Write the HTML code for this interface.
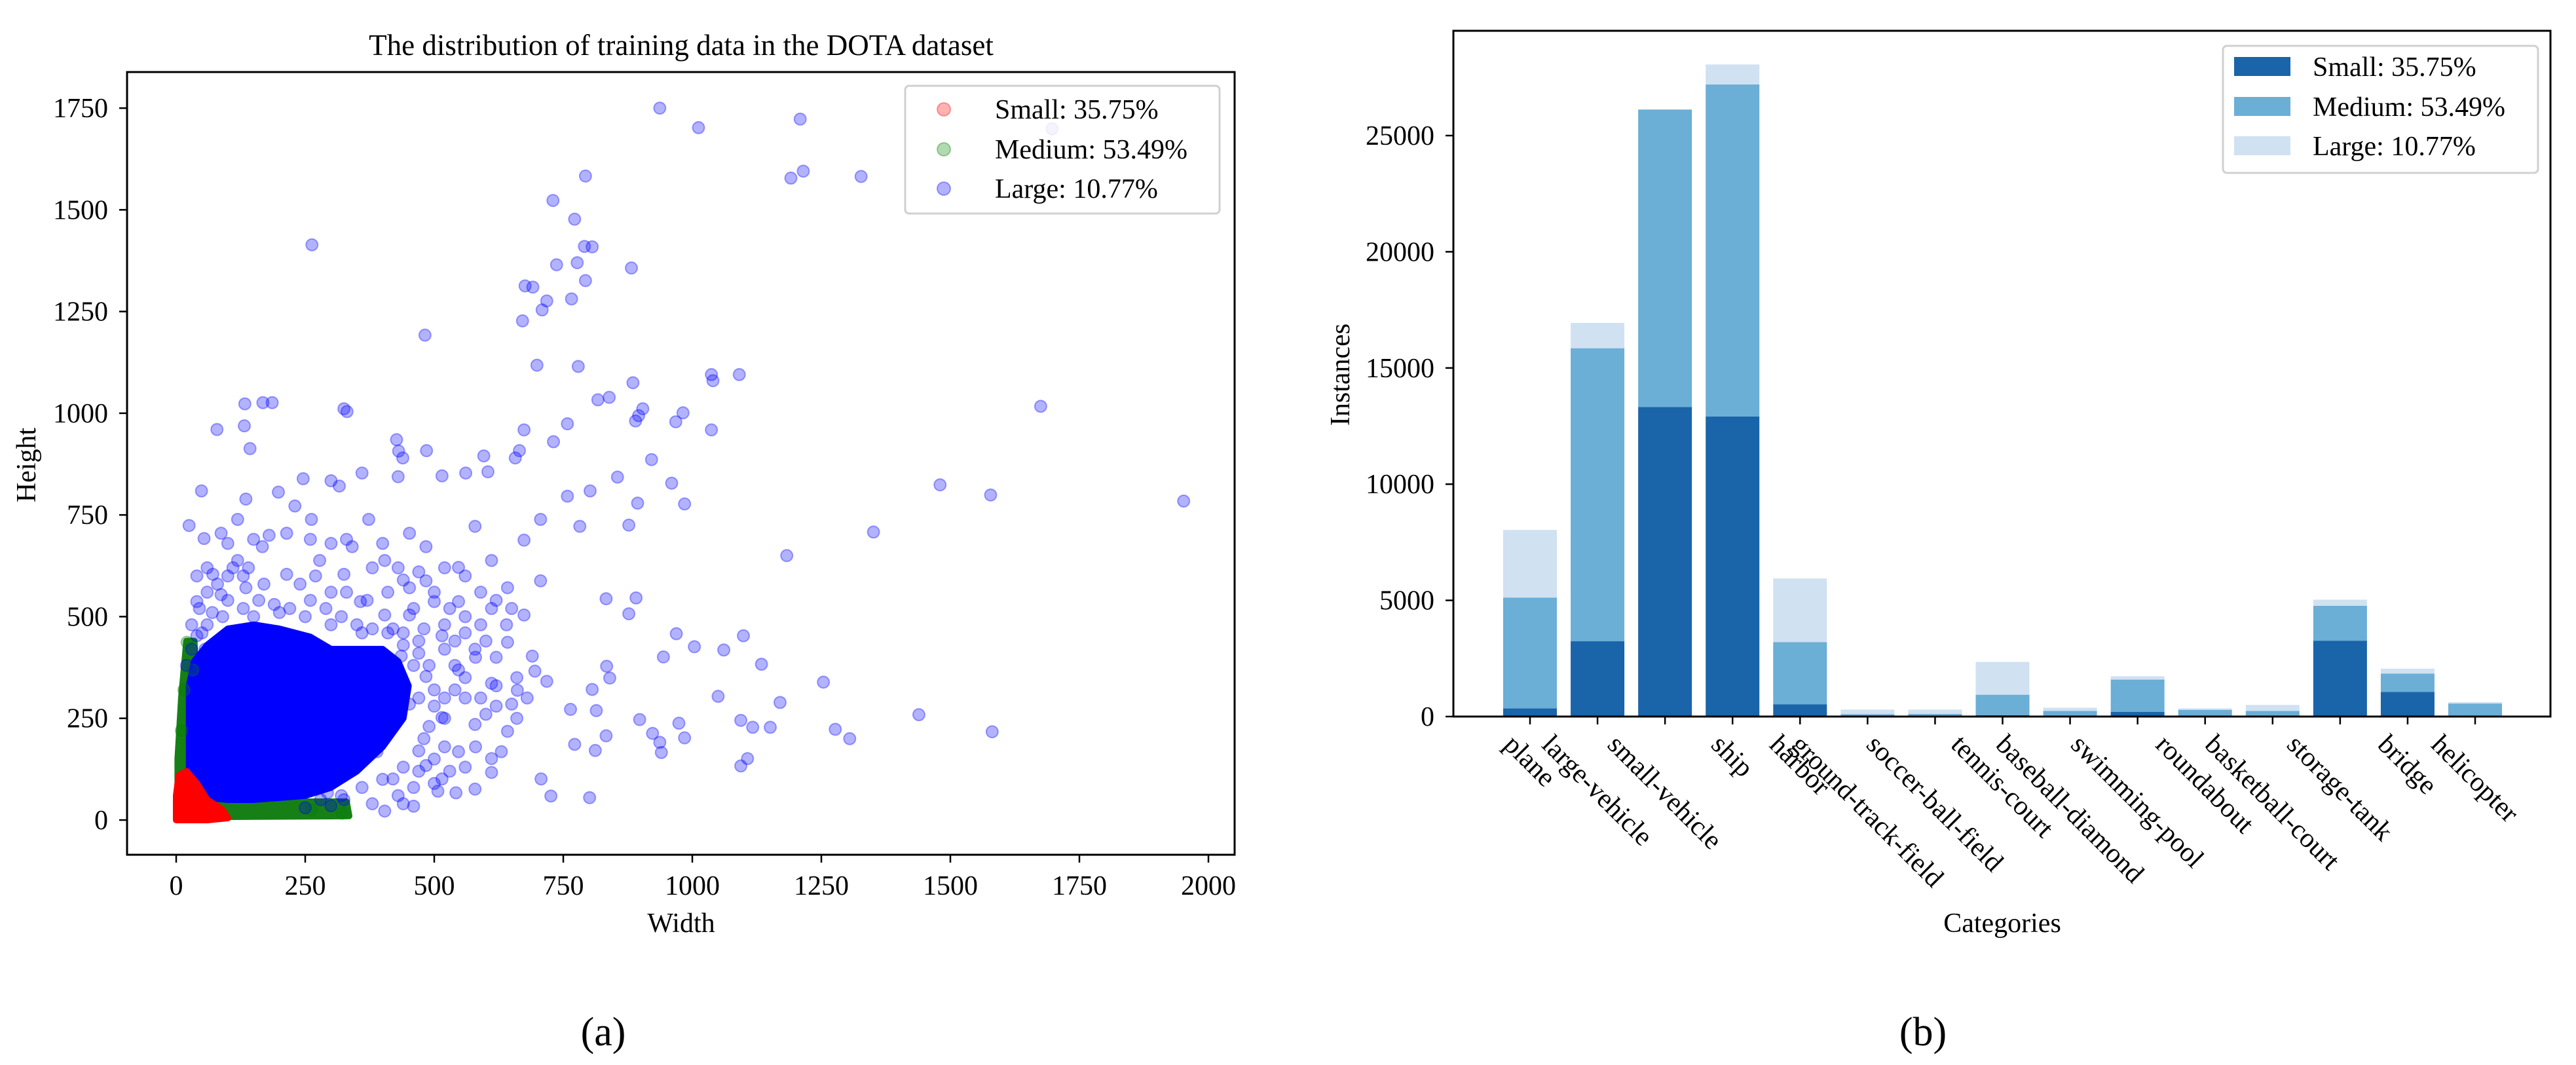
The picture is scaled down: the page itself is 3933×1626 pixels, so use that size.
<!DOCTYPE html>
<html><head><meta charset="utf-8">
<style>
html,body{margin:0;padding:0;background:#fff;}
svg{display:block;font-family:"Liberation Serif","DejaVu Serif",serif;}
</style></head>
<body>
<svg id="fig" width="3933" height="1626" viewBox="0 0 3933 1626" xmlns="http://www.w3.org/2000/svg">
<g id="left"></g>
<g id="right"></g>
</svg>
<script>
// ---------- Scatter data (width, height) ----------
const xTicks = [0,250,500,750,1000,1250,1500,1750,2000];
const yTicks = [0,250,500,750,1000,1250,1500,1750];
const smallCore = [[0,0],[0,60],[5,110],[20,120],[40,90],[60,50],[90,25],[100,5],[60,0]];
const mediumCore = [[3,10],[3,150],[10,300],[20,440],[35,440],[40,300],[40,60],[100,45],[200,45],[330,45],[335,10],[100,8]];
const largeCore = [[25,60],[25,330],[35,390],[60,430],[100,470],[150,480],[200,470],[260,450],[300,420],[350,420],[400,420],[430,390],[450,330],[440,250],[400,180],[350,120],[300,80],[250,60],[200,55],[150,50],[100,50],[60,55]];
const mediumPoints = [[21,437],[322,17],[262,25],[32,369],[15,320],[10,220]];
const largePoints = [[937,1750],[1012,1702],[1209,1723],[1697,1699],[793,1583],[1191,1578],[1215,1595],[1327,1582],[730,1523],[772,1477],[263,1414],[791,1410],[806,1409],[777,1370],[737,1365],[882,1357],[793,1326],[676,1313],[691,1310],[718,1276],[766,1281],[709,1254],[671,1227],[482,1192],[699,1118],[779,1115],[1037,1095],[1091,1095],[1040,1080],[885,1075],[817,1033],[839,1039],[904,1011],[896,994],[890,981],[982,1001],[968,979],[1037,959],[1675,1017],[133,1023],[168,1026],[186,1026],[325,1011],[331,1004],[79,960],[132,969],[674,959],[758,974],[143,913],[427,935],[485,908],[431,907],[439,890],[657,890],[596,895],[665,908],[731,930],[921,886],[360,853],[430,844],[515,846],[561,853],[604,856],[855,843],[960,828],[1480,824],[246,839],[300,834],[316,821],[49,809],[802,809],[1578,799],[1952,784],[894,779],[985,777],[758,796],[25,724],[54,692],[1351,708],[1183,650],[877,725],[782,722],[833,544],[891,546],[877,507],[1099,453],[969,458],[1061,418],[1004,426],[944,401],[1134,383],[834,378],[840,349],[1254,339],[1050,304],[1170,289],[1439,259],[898,247],[1151,228],[1117,228],[1277,223],[1305,200],[1581,217],[974,238],[985,202],[923,213],[937,191],[940,166],[1094,245],[1107,151],[1094,133],[801,55],[726,59],[707,101],[833,207],[764,272],[772,186],[812,171],[814,269],[806,321],[718,341],[695,366],[661,319],[650,285],[630,168],[611,117],[579,76],[542,67],[507,71],[460,34],[404,22],[452,705],[484,672],[547,621],[611,638],[674,688],[706,739],[579,722],[642,571],[547,537],[611,520],[674,504],[706,588],[484,588],[452,504],[515,453],[579,420],[642,437],[690,403],[547,369],[611,336],[484,353],[452,285],[515,252],[579,235],[642,218],[547,168],[484,134],[420,101],[515,101],[611,151],[373,739],[341,672],[325,604],[404,638],[262,739],[214,705],[167,672],[119,638],[71,604],[40,537],[87,554],[135,571],[214,604],[278,638],[119,739],[87,705],[198,806],[230,772],[135,789],[40,453],[56,420],[357,537],[404,504],[452,571],[500,537],[436,403],[404,336],[357,252],[389,168],[325,118],[293,67],[325,50],[480,470],[470,440],[460,380],[470,300],[480,200],[500,150],[440,460],[420,470],[360,460],[300,480],[250,500],[200,510],[150,500],[90,500],[60,480],[45,520],[520,420],[540,380],[560,300],[520,250],[500,320],[600,260],[620,400],[560,460],[520,180],[470,120],[430,60],[380,40],[250,30],[300,35],
[30,480],[50,460],[70,510],[100,540],[130,520],[160,540],[190,530],[220,520],[260,540],[290,520],[320,500],[350,480],[380,470],[410,460],[440,430],[470,410],[490,380],[500,280],[490,230],[470,170],[440,130],[400,100],[360,80],[320,60],[280,50],[100,600],[140,620],[110,620],[130,600],[170,580],[240,580],[270,600],[300,560],[330,560],[370,540],[410,560],[440,590],[470,610],[500,560],[530,520],[560,500],[590,480],[100,680],[150,690],[180,700],[260,690],[300,680],[330,690],[380,620],[400,680],[430,620],[520,480],[540,440],[460,520],[60,560],[80,580],[30,420],[20,380],[520,620],[560,600],[590,560],[620,540],[650,520],[640,480],[600,440],[580,400],[560,350],[540,320],[520,300],[590,300],[620,330],[660,350],[680,300],[660,250],[620,280],[580,180],[560,130],[530,120],[500,90],[460,80],[440,40],[60,620],[40,600]];

// ---------- Bar data ----------
const categories = ["plane","large-vehicle","small-vehicle","ship","harbor","ground-track-field","soccer-ball-field","tennis-court","baseball-diamond","swimming-pool","roundabout","basketball-court","storage-tank","bridge","helicopter"];
const smallVals  = [350,3240,13320,12910,530,30,30,60,40,205,40,40,3265,1060,50];
const mediumVals = [4770,12610,12800,14290,2675,70,80,880,200,1385,250,200,1500,790,510];
const largeVals  = [2910,1090,0,860,2735,200,190,1410,140,145,60,260,265,210,60];
const barTicks = [0,5000,10000,15000,20000,25000];

const NS="http://www.w3.org/2000/svg";
function mk(parent,tag,attrs,text){const e=document.createElementNS(NS,tag);for(const k in attrs)e.setAttribute(k,attrs[k]);if(text!==undefined)e.textContent=text;parent.appendChild(e);return e;}

// ===== Left scatter =====
const L=document.getElementById('left');
const lx=w=>269+w*0.788;
const ly=h=>1252-h*0.6211;
const FS=42;
let t=mk(L,'text',{x:1040,y:84,'text-anchor':'middle','font-size':45});
t.textContent='The distribution of training data in the DOTA dataset';


const plot=mk(L,'g',{});


function poly(pts,col,name){
  const p=mk(plot,'polygon',{points:pts.map(d=>lx(d[0])+','+ly(d[1])).join(' '),fill:col,stroke:col,'stroke-width':10,'stroke-linejoin':'round'});
  
  
}
function dots(pts,col,name){
  for(const d of pts){
    const c=mk(plot,'circle',{cx:lx(d[0]),cy:ly(d[1]),r:9,fill:col,'fill-opacity':0.3,stroke:col,'stroke-opacity':0.35,'stroke-width':2});
    
    
  }
}
poly(mediumCore,'#168016','medium-dense-region');
poly(largeCore,'#0000ff','large-dense-region');
poly(smallCore,'#ff0000','small-dense-region');
dots(mediumPoints,'#008000','medium-point');
dots(largePoints,'#0000ff','large-point');
const lf=mk(L,'rect',{x:194,y:110,width:1691,height:1195,fill:'none',stroke:'#000','stroke-width':3});


for(const v of xTicks){
  const x=lx(v);
  mk(L,'line',{x1:x,y1:1305,x2:x,y2:1317,stroke:'#000','stroke-width':2.5});
  const tl=mk(L,'text',{x:x,y:1366,'text-anchor':'middle','font-size':FS},String(v));
  
  
}
for(const v of yTicks){
  const y=ly(v);
  mk(L,'line',{x1:182,y1:y,x2:194,y2:y,stroke:'#000','stroke-width':2.5});
  const tl=mk(L,'text',{x:165,y:y+14,'text-anchor':'end','font-size':FS},String(v));
  
  
}
t=mk(L,'text',{x:1040,y:1423,'text-anchor':'middle','font-size':FS},'Width');


t=mk(L,'text',{x:0,y:0,'text-anchor':'middle','font-size':FS,transform:'translate(54,710) rotate(-90)'},'Height');


const lg=mk(L,'g',{});


mk(lg,'rect',{x:1382,y:131,width:480,height:195,rx:6,fill:'#fff','fill-opacity':0.85,stroke:'#d0d0d0','stroke-width':3});
const sl=[['Small:  35.75%','#ff0000',167],['Medium: 53.49%','#008000',228],['Large:  10.77%','#0000ff',288]];
for(const [txt,col,y] of sl){
  mk(lg,'circle',{cx:1441,cy:y,r:10,fill:col,'fill-opacity':0.3,stroke:col,'stroke-opacity':0.35,'stroke-width':2});
  const e=mk(lg,'text',{x:1519,y:y+14,'font-size':FS,'xml:space':'preserve'},txt);
  
  
}
t=mk(L,'text',{x:921,y:1596,'text-anchor':'middle','font-size':62},'(a)');



// ===== Right bar chart =====
const R=document.getElementById('right');
const bx=i=>2336+i*(3779-2336)/14;
const by=v=>1094-v*(1094-207)/25000;
const BW=82;
const cols=['#1a64aa','#6baed6','#d0e1f2'];
categories.forEach((c,i)=>{
  const vals=[smallVals[i],mediumVals[i],largeVals[i]];
  let base=0;
  const names=['bar-small','bar-medium','bar-large'];
  vals.forEach((v,k)=>{
    const r=mk(R,'rect',{x:bx(i)-BW/2,y:by(base+v),width:BW,height:by(base)-by(base+v),fill:cols[k]});
    
    
    base+=v;
  });
});
const rf=mk(R,'rect',{x:2219,y:47,width:1675,height:1047,fill:'none',stroke:'#000','stroke-width':3});


for(const v of barTicks){
  const y=by(v);
  mk(R,'line',{x1:2207,y1:y,x2:2219,y2:y,stroke:'#000','stroke-width':2.5});
  const tl=mk(R,'text',{x:2190,y:y+14,'text-anchor':'end','font-size':FS},String(v));
  
  
}
categories.forEach((c,i)=>{
  const x=bx(i);
  mk(R,'line',{x1:x,y1:1094,x2:x,y2:1106,stroke:'#000','stroke-width':2.5});
  const tl=mk(R,'text',{x:0,y:0,'text-anchor':'middle','font-size':FS},c);
  
  
  const w=tl.getComputedTextLength();
  const half=(w*0.7071+FS*0.9*0.7071)/2;
  tl.setAttribute('transform','translate('+x+','+(1116+half)+') rotate(45) translate(0,'+(FS*0.33)+')');
});
t=mk(R,'text',{x:3057,y:1423,'text-anchor':'middle','font-size':FS},'Categories');


t=mk(R,'text',{x:0,y:0,'text-anchor':'middle','font-size':FS,transform:'translate(2060,572) rotate(-90)'},'Instances');


const rg=mk(R,'g',{});


mk(rg,'rect',{x:3394,y:70,width:481,height:194,rx:6,fill:'#fff','fill-opacity':0.85,stroke:'#d0d0d0','stroke-width':3});
const bl=[['Small:  35.75%',cols[0],102],['Medium: 53.49%',cols[1],163],['Large:  10.77%',cols[2],223]];
for(const [txt,col,y] of bl){
  mk(rg,'rect',{x:3411,y:y-15,width:86,height:29,fill:col});
  const e=mk(rg,'text',{x:3531,y:y+14,'font-size':FS,'xml:space':'preserve'},txt);
  
  
}
t=mk(R,'text',{x:2936,y:1596,'text-anchor':'middle','font-size':62},'(b)');


</script>
</body></html>
